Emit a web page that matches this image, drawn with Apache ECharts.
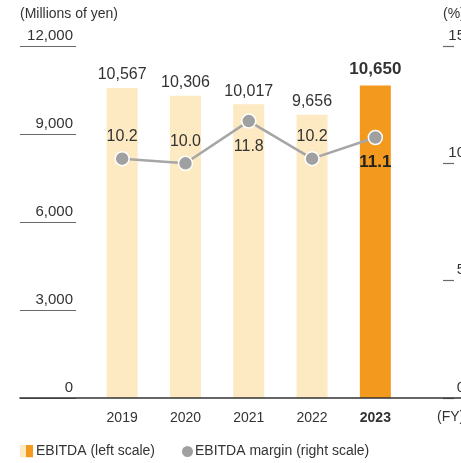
<!DOCTYPE html>
<html>
<head>
<meta charset="utf-8">
<script src="https://cdn.jsdelivr.net/npm/echarts@6/dist/echarts.min.js"></script>
<style>html,body{margin:0;padding:0;background:#fff}#c{width:461px;height:463px}</style>
</head>
<body>
<div id="c"></div>
<script>
var years = ['2019', '2020', '2021', '2022', '2023'];
var ebitda = [10567, 10306, 10017, 9656, 10650];
var margin = [10.2, 10.0, 11.8, 10.2, 11.1];
var leftAxis = { min: 0, max: 12000, interval: 3000 };
var rightAxis = { min: 0, max: 15, interval: 5 };
var unitLeft = '(Millions of yen)';
var unitRight = '(%)';
var unitX = '(FY)';
var barName = 'EBITDA (left scale)';
var lineName = 'EBITDA margin (right scale)';

var LIGHT = '#fde9c2', ORANGE = '#f39a1e', GRAY = '#a0a0a0', TXT = '#333';
var BASE = "'Liberation Sans', Arial, sans-serif";
var last = years.length - 1;
var lineLabelSide = ['top', 'top', 'bottom', 'top', 'bottom'];

function decoAxis(cfg, gridIdx, side, labelMargin) {
  return {
    type: 'value', gridIndex: gridIdx, min: cfg.min, max: cfg.max, interval: cfg.interval,
    position: side,
    axisLine: { show: false }, axisTick: { show: false },
    splitLine: { show: true, lineStyle: { color: '#6a6a6a', width: 1.2 } },
    axisLabel: {
      inside: true, margin: labelMargin, verticalAlign: 'bottom',
      padding: [0, 0, 3, 0], color: TXT, fontSize: 15, fontFamily: BASE,
      formatter: function (v) { return '{v|' + v.toLocaleString('en-US') + '}'; },
      rich: { v: { width: side === 'left' ? 17 : null, align: 'right', fontSize: 15, color: TXT, fontFamily: BASE } }
    }
  };
}

var svgIcon = "<svg xmlns='http://www.w3.org/2000/svg' width='13' height='13'><rect x='0' y='0' width='6' height='13' fill='" + LIGHT + "'/><rect x='6' y='0' width='7' height='13' fill='" + ORANGE + "'/></svg>";
var iconUrl = 'image://data:image/svg+xml;charset=utf-8,' + encodeURIComponent(svgIcon);

var chart = echarts.init(document.getElementById('c'), null, { renderer: 'canvas' });
chart.setOption({
  animation: false,
  textStyle: { fontFamily: BASE },
  grid: [
    { left: 20, width: 56, top: 46, bottom: 65 },
    { left: 90.5, right: 54, top: 46, bottom: 65 },
    { left: 443, right: 0, top: 46, bottom: 65 },
    { left: 20, right: 0, top: 46, bottom: 65 }
  ],
  xAxis: [
    { type: 'value', gridIndex: 0, show: false },
    {
      type: 'category', gridIndex: 1,
      data: years.map(function (y, i) { return i === last ? { value: y, textStyle: { fontWeight: 'bold' } } : y; }),
      axisLine: { show: false }, axisTick: { show: false },
      axisLabel: { margin: 13, color: TXT, fontSize: 14, fontFamily: BASE }
    },
    { type: 'value', gridIndex: 2, show: false },
    {
      type: 'value', gridIndex: 3, min: 0, max: 1, z: 10,
      axisLine: { show: true, lineStyle: { color: '#333', width: 1.6 } },
      axisTick: { show: false }, axisLabel: { show: false }, splitLine: { show: false }
    }
  ],
  yAxis: [
    decoAxis(leftAxis, 0, 'right', 3),
    decoAxis(rightAxis, 2, 'left', 5),
    { type: 'value', gridIndex: 1, min: leftAxis.min, max: leftAxis.max, show: false },
    { type: 'value', gridIndex: 1, min: rightAxis.min, max: rightAxis.max, show: false },
    { type: 'value', gridIndex: 3, min: 0, max: 1, show: false }
  ],
  legend: [
    {
      left: 20, top: 444, padding: 0, itemWidth: 13, itemHeight: 13, selectedMode: false,
      data: [{ name: barName, icon: iconUrl }],
      textStyle: { fontSize: 14, color: TXT, fontFamily: BASE, padding: [0, 0, 0, -2] }
    },
    {
      left: 180, top: 444, padding: 0, itemWidth: 13, itemHeight: 13, selectedMode: false,
      data: [{ name: lineName, icon: 'circle' }],
      textStyle: { fontSize: 14, color: TXT, fontFamily: BASE, padding: [0, 0, 0, -4] }
    }
  ],
  graphic: [
    { type: 'text', left: 20, top: 7, style: { text: unitLeft, fill: TXT, font: '14px ' + BASE } },
    { type: 'text', left: 443, top: 7, style: { text: unitRight, fill: TXT, font: '14px ' + BASE } },
    { type: 'text', left: 437, top: 410, style: { text: unitX, fill: TXT, font: '14px ' + BASE } }
  ],
  series: [
    {
      name: barName, type: 'bar', xAxisIndex: 1, yAxisIndex: 2, barWidth: 31,
      itemStyle: { color: LIGHT },
      data: ebitda.map(function (v, i) {
        return i === last ? {
          value: v, itemStyle: { color: ORANGE },
          label: { fontWeight: 'bold', distance: 8, fontSize: 17 }
        } : v;
      }),
      label: {
        show: true, position: 'top', distance: 5, color: TXT, fontSize: 16, fontFamily: BASE,
        formatter: function (p) { return p.value.toLocaleString('en-US'); }
      }
    },
    {
      name: lineName, type: 'line', xAxisIndex: 1, yAxisIndex: 3, z: 5,
      symbol: 'circle', symbolSize: 14,
      lineStyle: { color: '#a6a6a6', width: 2.5 },
      itemStyle: { color: GRAY, borderColor: '#fff', borderWidth: 1.5 },
      data: margin.map(function (v, i) {
        var side = lineLabelSide[i];
        var lab = { position: side, distance: side === 'top' ? 6 : 10 };
        if (i === last) { lab.fontWeight = 'bold'; lab.fontSize = 17; lab.color = '#222'; lab.distance = 9; }
        return { value: v, label: lab };
      }),
      label: {
        show: true, color: TXT, fontSize: 16, fontFamily: BASE,
        formatter: function (p) { return p.value.toFixed(1); }
      }
    }
  ]
});
</script>
</body>
</html>
